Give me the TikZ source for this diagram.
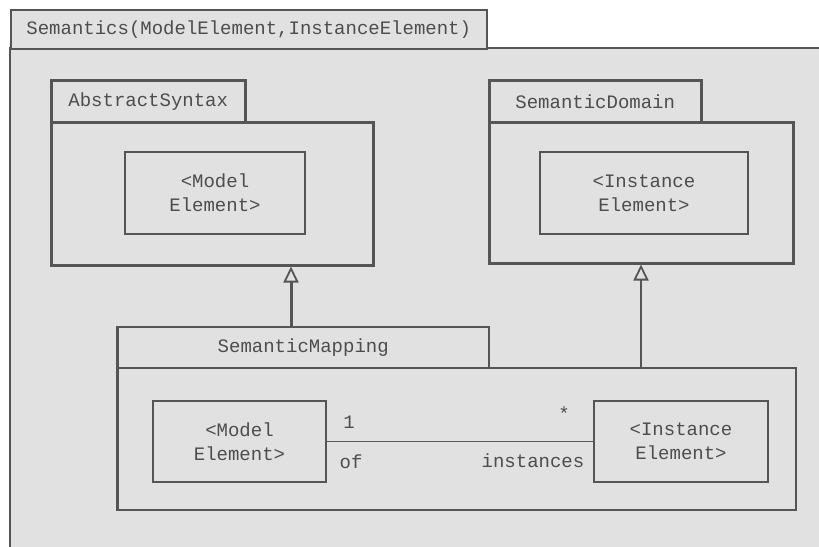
\documentclass[tikz,border=0pt]{standalone}
\usepackage{fontspec}
\setmonofont{Liberation Mono}
\usetikzlibrary{arrows.meta}
\definecolor{umlgray}{HTML}{E1E1E1}
\definecolor{umlline}{HTML}{555555}
\definecolor{umltext}{HTML}{4D4D4D}

\begin{document}
\begin{tikzpicture}[x=1pt, y=-1pt,
        box/.style={draw=umlline, fill=umlgray, anchor=north west, inner sep=0pt,
            text=umltext, font=\ttfamily\fontsize{19}{24}\selectfont, align=center},
        pkg/.style={box, line width=2.5pt},
        elem/.style={box, line width=2pt},
        lbl/.style={text=umltext, font=\ttfamily\fontsize{19}{24}\selectfont, inner sep=0pt},
        gen/.style={draw=umlline, -{Triangle[open, length=16pt, width=15pt, line width=1.8pt]}}]

    \fill[white] (0,0) rectangle (819,546);
    \useasboundingbox (0,0) rectangle (819,546);

    %% Semantics
    \fill[umlgray] (10,48) rectangle (830,560);
    \draw[umlline, line width=1.5pt] (10,560) -- (10,48) -- (830,48);
    \node[box, line width=1.5pt, minimum width=476pt, minimum height=39pt] (semtab) at (10,9)
        {Semantics(ModelElement,InstanceElement)};

    %% AbstractSyntax
    \node[pkg, minimum width=194pt, minimum height=42pt] (astab) at (50,79) {AbstractSyntax};
    \node[pkg, minimum width=322pt, minimum height=143pt] (asbody) at (50,121) {};
    \node[elem, minimum width=180pt, minimum height=82pt] (asel) at (124,151) {<Model\\Element>};

    %% SemanticDomain
    \node[pkg, minimum width=212pt, minimum height=42pt] (sdtab) at (488,79) {SemanticDomain};
    \node[pkg, minimum width=304pt, minimum height=141pt] (sdbody) at (488,121) {};
    \node[elem, minimum width=208pt, minimum height=82pt] (sdel) at (539,151) {<Instance\\Element>};

    %% SemanticMapping
    \node[box, line width=1.5pt, minimum width=371pt, minimum height=41pt] (smtab) at (117,326) {SemanticMapping};
    \node[box, line width=1.5pt, minimum width=678pt, minimum height=142pt] (smbody) at (117,367) {};
    \draw[umlline, line width=3pt] (smtab.north west) -- (smbody.south west);
    \node[elem, minimum width=173pt, minimum height=81pt] (smmodel) at (152,400) {<Model\\Element>};
    \node[elem, minimum width=174pt, minimum height=81pt] (sminst) at (593,400) {<Instance\\Element>};

    % association
    \draw[umlline, line width=1.5pt] (smmodel.east) -- (sminst.west);
    \node[lbl] (one) at (349,422) {1};
    \node[lbl] (many) at (564,414) {*};
    \node[lbl] (of) at (351,462) {of};
    \node[lbl] (inst) at (533,461) {instances};

    % generalizations
    \coordinate (g1) at (291,326);
    \coordinate (g2) at (641,367);
    \draw[gen, line width=3pt] (g1) -- (g1 |- asbody.south);
    \draw[gen, line width=1.5pt] (g2) -- (g2 |- sdbody.south);

\end{tikzpicture}
\end{document}
